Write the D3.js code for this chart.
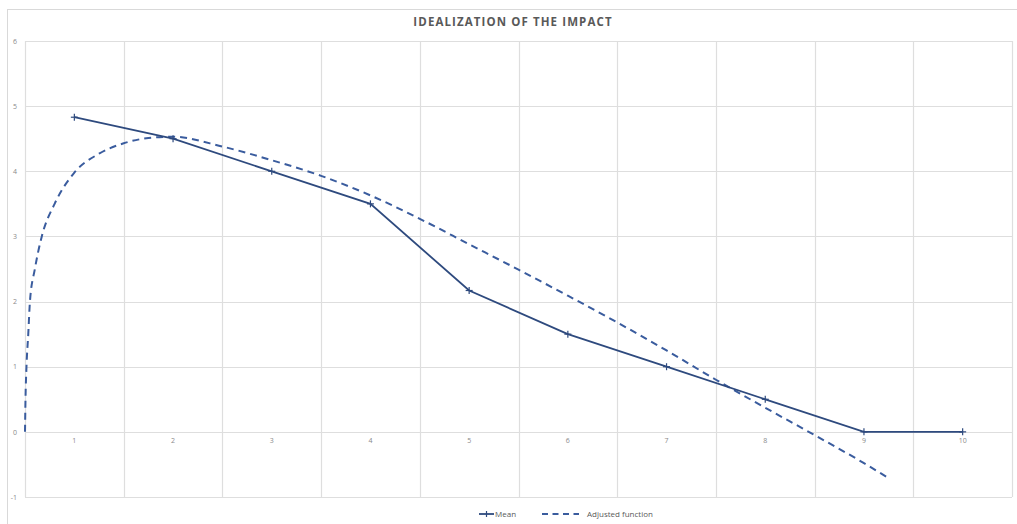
<!DOCTYPE html>
<html>
<head>
<meta charset="utf-8">
<script src="https://cdn.jsdelivr.net/npm/d3@7"></script>
<style>
  html, body { margin: 0; padding: 0; background: #fff; }
  svg { display: block; font-family: "Open Sans", "Noto Sans", sans-serif; }
</style>
</head>
<body>
<svg id="chart" width="1017" height="524"></svg>
<script>
// ---- data ----
const categories = [1, 2, 3, 4, 5, 6, 7, 8, 9, 10];
const meanValues = [4.83, 4.5, 4.0, 3.5, 2.17, 1.5, 1.0, 0.5, 0, 0];
const adjustedX = [0.5, 0.505, 0.515, 0.533, 0.55, 0.6, 0.67, 0.8, 1.0, 1.25, 1.5, 1.75, 2.0, 2.5, 3.0, 3.5, 4.0, 4.5, 5.0, 5.5, 6.0, 6.5, 7.0, 7.5, 8.0, 8.5, 9.0, 9.25];
const adjustedY = [0, 0.5, 1.0, 1.5, 2.0, 2.5, 3.0, 3.5, 3.98, 4.27, 4.43, 4.51, 4.53, 4.38, 4.17, 3.93, 3.63, 3.27, 2.88, 2.49, 2.09, 1.68, 1.25, 0.80, 0.37, -0.05, -0.48, -0.71];
const yTicks = [-1, 0, 1, 2, 3, 4, 5, 6];
const title = "IDEALIZATION OF THE IMPACT";
const legendLabels = ["Mean", "Adjusted function"];

// ---- layout ----
const svg = d3.select("#chart");
const plot = { left: 25, right: 1012, top: 41, bottom: 497 };

const xBand = d3.scaleBand().domain(categories).range([plot.left, plot.right]).padding(0);
const xLin = d3.scaleLinear().domain([0.5, categories.length + 0.5]).range([plot.left, plot.right]);
const y = d3.scaleLinear().domain([-1, 6]).range([plot.bottom, plot.top]);

const meanColor = "#2E4A7E";
const adjColor = "#3A5C9E";
const gridColor = "#dedede";
const textColor = "#8a8a8a";

// outer border
svg.append("rect")
  .attr("x", 7.5).attr("y", 9.5).attr("width", 1012).attr("height", 520)
  .attr("fill", "none").attr("stroke", "#d9d9d9").attr("stroke-width", 1);

// title
svg.append("text")
  .attr("x", 513).attr("y", 26)
  .attr("text-anchor", "middle")
  .attr("font-size", 11.5).attr("font-weight", 700)
  .attr("letter-spacing", 1.1)
  .attr("fill", "#595959")
  .text(title);

// horizontal grid
svg.append("g")
  .selectAll("line").data(yTicks).join("line")
  .attr("x1", plot.left).attr("x2", plot.right)
  .attr("y1", d => Math.round(y(d)) + 0.5).attr("y2", d => Math.round(y(d)) + 0.5)
  .attr("stroke", gridColor).attr("stroke-width", 1.2);

// vertical grid at category boundaries
const bounds = categories.map(c => xBand(c)).concat([plot.right]);
svg.append("g")
  .selectAll("line").data(bounds).join("line")
  .attr("x1", d => Math.round(d) + 0.5).attr("x2", d => Math.round(d) + 0.5)
  .attr("y1", plot.top).attr("y2", plot.bottom)
  .attr("stroke", gridColor).attr("stroke-width", 1.2);

// y axis labels
const yAxis = d3.axisLeft(y).tickValues(yTicks).tickSize(0).tickPadding(8).tickFormat(d => String(d));
const gy = svg.append("g").attr("transform", `translate(${plot.left},0)`).call(yAxis);
gy.select(".domain").remove();
gy.selectAll("text").attr("font-size", 7).attr("fill", textColor).attr("font-family", "Open Sans, sans-serif");

// x axis labels (at y = 0)
const xAxis = d3.axisBottom(xBand).tickSize(0).tickPadding(6);
const gx = svg.append("g").attr("transform", `translate(0,${y(0)})`).call(xAxis);
gx.select(".domain").remove();
gx.selectAll("text").attr("font-size", 7).attr("fill", textColor).attr("font-family", "Open Sans, sans-serif");

// adjusted function (dashed)
const adjData = adjustedX.map((xv, i) => ({ x: xv, y: adjustedY[i] }));
svg.append("path")
  .datum(adjData)
  .attr("fill", "none")
  .attr("stroke", adjColor)
  .attr("stroke-width", 2)
  .attr("stroke-dasharray", "7,5")
  .attr("d", d3.line().x(d => xLin(d.x)).y(d => y(d.y)).curve(d3.curveMonotoneX));

// mean line
const meanData = categories.map((c, i) => ({ c, v: meanValues[i] }));
const cx = c => xBand(c) + xBand.bandwidth() / 2;
svg.append("path")
  .datum(meanData)
  .attr("fill", "none")
  .attr("stroke", meanColor)
  .attr("stroke-width", 1.8)
  .attr("d", d3.line().x(d => cx(d.c)).y(d => y(d.v)));

// plus markers
const plusSize = 3.5;
const markers = svg.append("g").selectAll("g").data(meanData).join("g")
  .attr("transform", d => `translate(${cx(d.c)},${y(d.v)})`);
markers.append("line").attr("x1", -plusSize).attr("x2", plusSize).attr("y1", 0).attr("y2", 0)
  .attr("stroke", meanColor).attr("stroke-width", 1.2);
markers.append("line").attr("x1", 0).attr("x2", 0).attr("y1", -plusSize).attr("y2", plusSize)
  .attr("stroke", meanColor).attr("stroke-width", 1.2);

// legend
const ly = 514;
const leg = svg.append("g");
leg.append("line").attr("x1", 479).attr("x2", 494).attr("y1", ly).attr("y2", ly)
  .attr("stroke", meanColor).attr("stroke-width", 1.8);
leg.append("line").attr("x1", 486.5).attr("x2", 486.5).attr("y1", ly - 3).attr("y2", ly + 3)
  .attr("stroke", meanColor).attr("stroke-width", 1.2);
leg.append("text").attr("x", 495).attr("y", ly + 3).attr("font-size", 8).attr("fill", "#595959")
  .text(legendLabels[0]);
leg.append("line").attr("x1", 542).attr("x2", 579).attr("y1", ly).attr("y2", ly)
  .attr("stroke", adjColor).attr("stroke-width", 2).attr("stroke-dasharray", "6,4.5");
leg.append("text").attr("x", 587).attr("y", ly + 3).attr("font-size", 8).attr("fill", "#595959")
  .text(legendLabels[1]);
</script>
</body>
</html>
